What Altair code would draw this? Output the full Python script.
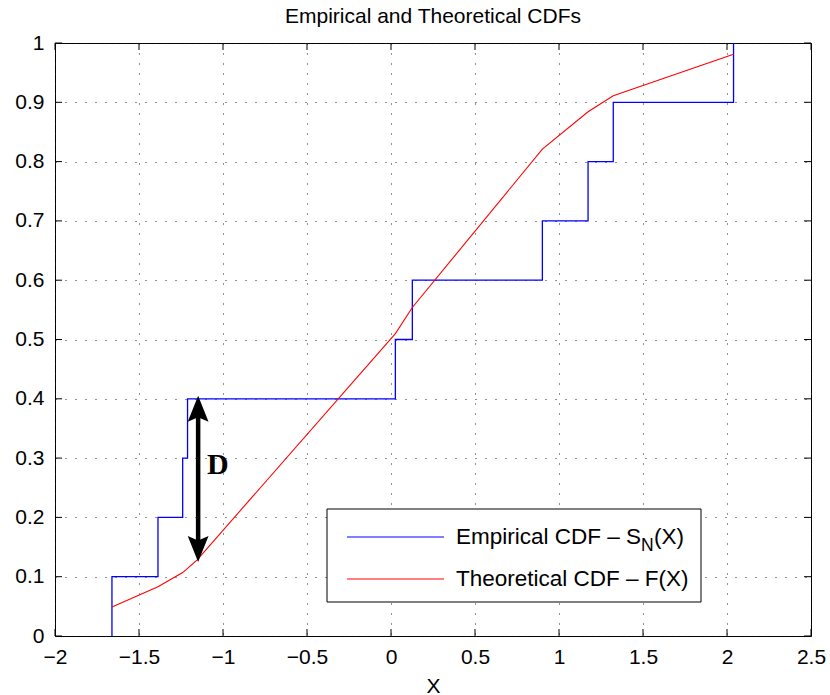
import altair as alt
import pandas as pd

# ---------------- data ----------------
sample_x = [-1.661, -1.387, -1.240, -1.211, 0.026, 0.127, 0.901, 1.173, 1.323, 2.039]
ecdf_y = [0.1, 0.2, 0.3, 0.4, 0.5, 0.6, 0.7, 0.8, 0.9, 1.0]

theo_x = [-1.661, -1.387, -1.240, -1.211, -1.155, 0.026, 0.127, 0.901, 1.173, 1.323, 2.039]
theo_y = [0.049, 0.083, 0.107, 0.114, 0.128, 0.510, 0.554, 0.821, 0.884, 0.911, 0.981]

x_ticks = [-2, -1.5, -1, -0.5, 0, 0.5, 1, 1.5, 2, 2.5]
y_ticks = [0, 0.1, 0.2, 0.3, 0.4, 0.5, 0.6, 0.7, 0.8, 0.9, 1.0]

arrow_x = [-1.148]
arrow_top = [0.405]
arrow_bottom = [0.125]
d_label = ["D"]
d_x = [-1.095]
d_y = [0.274]

title_text = "Empirical and Theoretical CDFs"
x_title = "X"
legend_emp = ["Empirical CDF \u2013 S", "N", "(X)"]
legend_theo = "Theoretical CDF \u2013 F(X)"

# ---------------- layout ----------------
W, H = 756, 593
FONT = "Liberation Sans"
BLUE = "#0000ff"
RED = "#ff0000"

emp_df = pd.DataFrame({
    "x": [sample_x[0]] + sample_x,
    "y": [0.0] + ecdf_y,
    "i": list(range(len(sample_x) + 1)),
})
theo_df = pd.DataFrame({"x": theo_x, "y": theo_y, "i": list(range(len(theo_x)))})
xt_df = pd.DataFrame({"x": x_ticks})
yt_df = pd.DataFrame({"y": y_ticks})
arrow_df = pd.DataFrame({"x": arrow_x, "y": arrow_top, "bottom": arrow_bottom})
arrow_df["top_s"] = arrow_df["y"] - 0.02
arrow_df["bot_s"] = arrow_df["bottom"] + 0.02
d_df = pd.DataFrame({"x": d_x, "y": d_y, "t": d_label})
one = pd.DataFrame({"k": [0]})

xscale = alt.Scale(domain=[-2, 2.5], nice=False, zero=False)
yscale = alt.Scale(domain=[0, 1], nice=False, zero=False)
ax_x = alt.Axis(values=x_ticks, format="~g", title=x_title, grid=True,
                labelFlush=False, labelOverlap=False, ticks=False,
                labelPadding=10, domain=False,
                titleY=56, titleBaseline="alphabetic")
ax_y = alt.Axis(values=y_ticks, format="~g", title="", grid=True,
                labelFlush=False, labelOverlap=False, ticks=False,
                labelPadding=11, domain=False)


def X(f):
    return alt.X(f, scale=xscale, axis=ax_x)


def Y(f):
    return alt.Y(f, scale=yscale, axis=ax_y)


emp = alt.Chart(emp_df).mark_line(interpolate="step-after", color=BLUE, strokeWidth=1.3).encode(
    x=X("x:Q"), y=Y("y:Q"), order="i:O")

theo = alt.Chart(theo_df).mark_line(color=RED, strokeWidth=1.1).encode(
    x=X("x:Q"), y=Y("y:Q"), order="i:O")

TL = 7
tick_b = alt.Chart(xt_df).mark_rule(color="black", strokeWidth=1).encode(
    x=X("x:Q"), y=alt.value(H), y2=alt.value(H - TL))
tick_t = alt.Chart(xt_df).mark_rule(color="black", strokeWidth=1).encode(
    x=X("x:Q"), y=alt.value(0), y2=alt.value(TL))
tick_l = alt.Chart(yt_df).mark_rule(color="black", strokeWidth=1).encode(
    y=Y("y:Q"), x=alt.value(0), x2=alt.value(TL))
tick_r = alt.Chart(yt_df).mark_rule(color="black", strokeWidth=1).encode(
    y=Y("y:Q"), x=alt.value(W), x2=alt.value(W - TL))

shaft = alt.Chart(arrow_df).mark_rule(color="black", strokeWidth=4.5).encode(
    x=X("x:Q"), y=Y("top_s:Q"), y2="bot_s:Q")
head_up = alt.Chart(arrow_df).mark_point(
    shape="M0,0 L0.8,2 L0,1.65 L-0.8,2 Z", size=676, filled=True,
    fill="black", opacity=1, strokeWidth=0).encode(
    x=X("x:Q"), y=Y("y:Q"))
head_dn = alt.Chart(arrow_df).mark_point(
    shape="M0,0 L0.8,-2 L0,-1.65 L-0.8,-2 Z", size=676, filled=True,
    fill="black", opacity=1, strokeWidth=0).encode(
    x=X("x:Q"), y=Y("bottom:Q"))
dtext = alt.Chart(d_df).mark_text(
    font="Liberation Serif", fontWeight="bold", fontSize=30, align="left",
    baseline="alphabetic", color="black").encode(
    x=X("x:Q"), y=Y("y:Q"), text="t:N")

txt_kw = dict(font=FONT, align="left", baseline="alphabetic", color="black")

# chart title as a text mark above the plot area
title_mark = alt.Chart(one).mark_text(
    font=FONT, fontSize=21, align="center", baseline="alphabetic", color="black").encode(
    x=alt.value(W / 2), y=alt.value(-20), text=alt.value(title_text))

# legend drawn inside the plot area
leg_box = alt.Chart(one).mark_rect(fill="white", stroke="black", strokeWidth=1).encode(
    x=alt.value(272), x2=alt.value(646), y=alt.value(466), y2=alt.value(559))
leg_l1 = alt.Chart(one).mark_rule(color=BLUE, strokeWidth=1.2).encode(
    x=alt.value(292), x2=alt.value(389), y=alt.value(494))
leg_l2 = alt.Chart(one).mark_rule(color=RED, strokeWidth=1.2).encode(
    x=alt.value(292), x2=alt.value(389), y=alt.value(536))
leg_t1 = alt.Chart(one).mark_text(fontSize=22.5, **txt_kw).encode(
    x=alt.value(401), y=alt.value(501), text=alt.value(legend_emp[0]))
leg_t1n = alt.Chart(one).mark_text(fontSize=17.5, **txt_kw).encode(
    x=alt.value(586), y=alt.value(508), text=alt.value(legend_emp[1]))
leg_t1x = alt.Chart(one).mark_text(fontSize=22.5, **txt_kw).encode(
    x=alt.value(599), y=alt.value(501), text=alt.value(legend_emp[2]))
leg_t2 = alt.Chart(one).mark_text(fontSize=22.5, **txt_kw).encode(
    x=alt.value(401), y=alt.value(543), text=alt.value(legend_theo))

chart = alt.layer(
    emp, theo, tick_b, tick_t, tick_l, tick_r,
    shaft, head_up, head_dn, dtext, title_mark,
    leg_box, leg_l1, leg_l2, leg_t1, leg_t1n, leg_t1x, leg_t2,
).properties(
    width=W, height=H,
    background="white",
    autosize=alt.AutoSizeParams(type="none"),
    padding={"left": 55, "top": 43, "right": 19, "bottom": 59},
).configure_view(
    stroke="black", strokeWidth=1
).configure_axis(
    labelFont=FONT, labelFontSize=21, labelColor="black",
    titleFont=FONT, titleFontSize=21, titleFontWeight="normal", titleColor="black",
    gridColor="#222222", gridDash=[1, 9], gridWidth=1, gridOpacity=1,
)

chart.save("out.html", embed_options={"renderer": "svg", "actions": False})
